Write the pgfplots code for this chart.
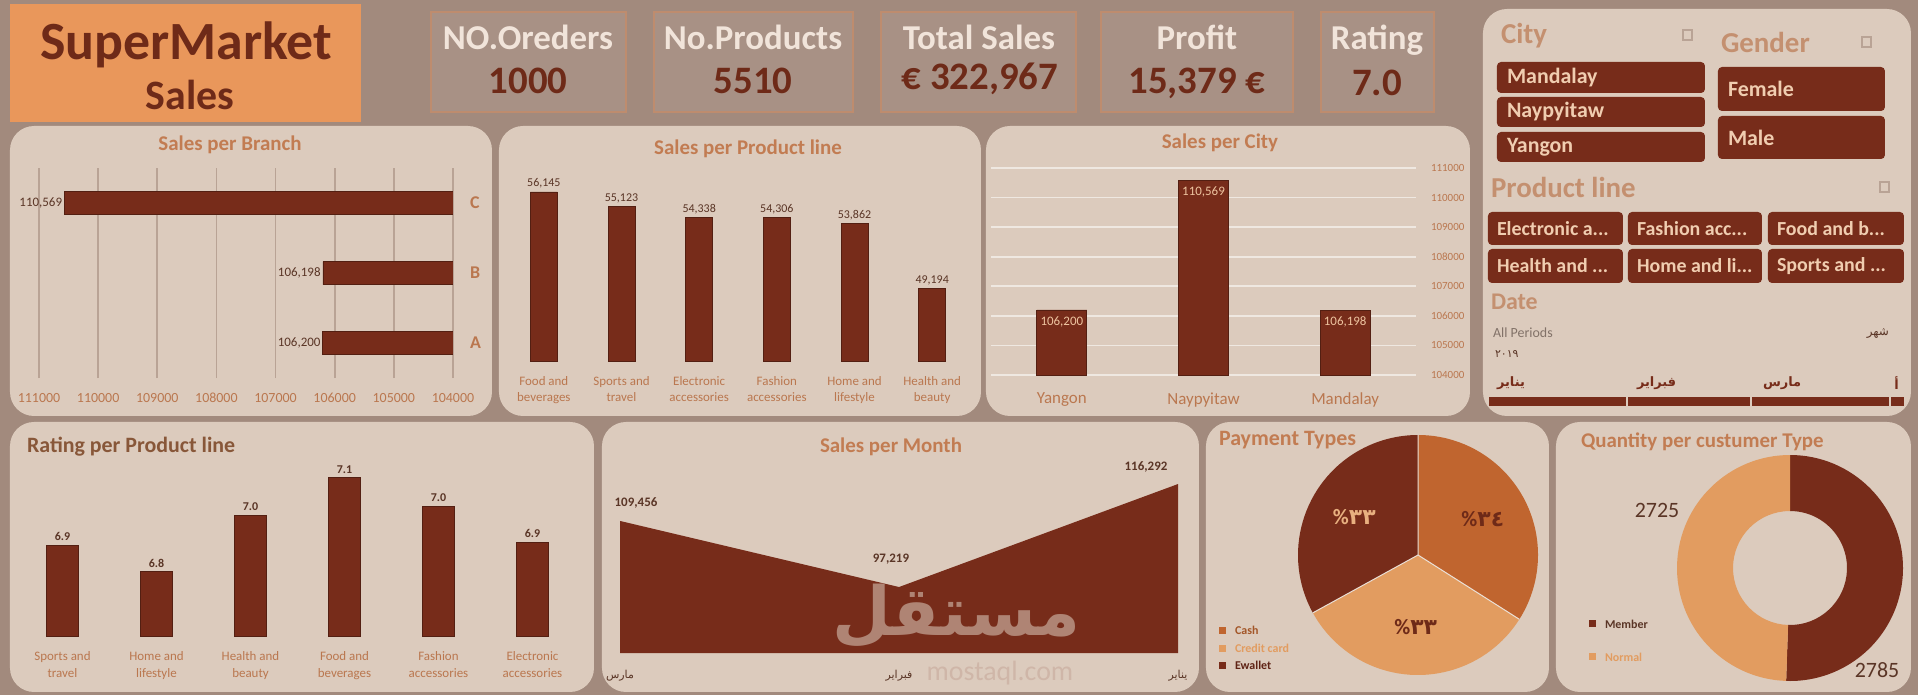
\documentclass[border=0pt]{standalone}
\usepackage{fontspec}
\setmainfont{Carlito}
\newfontfamily\arabicfont[Script=Arabic]{DejaVu Sans}
\TeXXeTstate=1
\usepackage{pgfplots}
\pgfplotsset{compat=1.18}
\definecolor{bg}{HTML}{A28A7D}
\definecolor{panel}{HTML}{DCCBBD}
\definecolor{barc}{HTML}{772C1A}
\definecolor{orangebox}{HTML}{E9975B}
\definecolor{ttl}{HTML}{C27C52}
\definecolor{tick}{HTML}{BA774F}
\definecolor{kpilab}{HTML}{F1E4DA}
\definecolor{kpival}{HTML}{6E2A18}
\definecolor{kpiborder}{HTML}{BE8C6E}
\definecolor{cashc}{HTML}{C0652F}
\definecolor{credc}{HTML}{E29C60}
\definecolor{btntext}{HTML}{F0CDB0}
\definecolor{gridc}{HTML}{B9A395}
\definecolor{labc}{HTML}{5A3526}
\definecolor{hdr}{HTML}{C49070}
\newcommand{\fsz}[2]{\fontsize{#1}{#2}\selectfont}
\pgfplotsset{
  dash/.style={scale only axis, anchor=south west, axis line style={draw=none},
    tick style={draw=none}, major tick length=0pt, clip mode=individual,
    /pgf/number format/assume math mode=true, scaled ticks=false},
}
\begin{document}
\begin{tikzpicture}
\fill[bg] (0,0) rectangle (959bp,-347.5bp);
\useasboundingbox (0,0) rectangle (959bp,-347.5bp);
\begin{scope}[x=0.5bp,y=-0.5bp]
% ---------- header ----------
\fill[orangebox] (10,4) rectangle (361,122);
\node[text=kpival, font=\fsz{27}{30}\bfseries] at (186,45) {SuperMarket};
\node[text=kpival, font=\fsz{21}{24}\bfseries] at (190,95) {Sales};
\foreach \a/\b in {431/626,654/853,881/1076,1101/1293,1321/1434}
  \draw[kpiborder, line width=0.8bp, fill=bg!94!white] (\a,12) rectangle (\b,112);
\node[text=kpilab, font=\fsz{17.5}{20}\bfseries] at (528,37) {NO.Oreders};
\node[text=kpival, font=\fsz{19.5}{22}\bfseries] at (528,81) {1000};
\node[text=kpilab, font=\fsz{17.5}{20}\bfseries] at (753,37) {No.Products};
\node[text=kpival, font=\fsz{19.5}{22}\bfseries] at (753,81) {5510};
\node[text=kpilab, font=\fsz{17.5}{20}\bfseries] at (979,37) {Total Sales};
\node[text=kpival, font=\fsz{19.5}{22}\bfseries] at (980,79) {€ 322,967};
\node[text=kpilab, font=\fsz{17.5}{20}\bfseries] at (1197,37) {Profit};
\node[text=kpival, font=\fsz{19.5}{22}\bfseries] at (1197,83) {15,379 €};
\node[text=kpilab, font=\fsz{17.5}{20}\bfseries] at (1377,40) {Rating};
\node[text=kpival, font=\fsz{19.5}{22}\bfseries] at (1377,83) {7.0};
% ---------- panels ----------
\foreach \a/\b/\c/\d in {10/126/492/416, 499/126/981/416, 986/126/1470/416, 1483/9/1911/416,
   10/422/594/692, 602/422/1199/692, 1206/422/1549/692, 1556/422/1911/692}
  \fill[panel, rounded corners=12bp] (\a,\b) rectangle (\c,\d);
% titles
\node[text=ttl, font=\fsz{10.5}{12}\bfseries] at (230,145) {Sales per Branch};
\node[text=ttl, font=\fsz{10.5}{12}\bfseries] at (748,149) {Sales per Product line};
\node[text=ttl, font=\fsz{10.5}{12}\bfseries] at (1220,143) {Sales per City};
\node[text=ttl!70!black, font=\fsz{11}{12}\bfseries, anchor=west] at (20,447) {Rating per Product line};
\node[text=ttl, font=\fsz{10.5}{12}\bfseries] at (891,447) {Sales per Month};
\node[text=ttl, font=\fsz{11}{12}\bfseries, anchor=west] at (1212,440) {Payment Types};
\node[text=ttl, font=\fsz{10.5}{12}\bfseries, anchor=west] at (1574,442) {Quantity per custumer Type};
% ---------- slicer panel ----------
\node[text=hdr, font=\fsz{14.5}{16}\bfseries, anchor=west] at (1494,36) {City};
\node[text=hdr, font=\fsz{14.5}{16}\bfseries, anchor=west] at (1714,42) {Gender};
\node[text=hdr, font=\fsz{14.5}{16}\bfseries, anchor=west] at (1484,187) {Product line};
\node[text=hdr, font=\fsz{12}{14}\bfseries, anchor=west] at (1484,302) {Date};
\draw[gridc, line width=0.6bp] (1683,30) rectangle (1692,40);
\draw[gridc, line width=0.6bp] (1862,37) rectangle (1871,47);
\draw[gridc, line width=0.6bp] (1880,182) rectangle (1889,192);
\foreach \b/\t/\n in {62/93/Mandalay, 97/127/Naypyitaw, 132/162/Yangon}{
  \fill[barc, rounded corners=2bp] (1497,\b) rectangle (1705,\t);
  \node[text=btntext, font=\fsz{11}{12}\bfseries, anchor=west] at (1500,{(\b+\t)/2}) {\n};
}
\foreach \b/\t/\n in {67/111/Female, 116/159/Male}{
  \fill[barc, rounded corners=2bp] (1718,\b) rectangle (1885,\t);
  \node[text=btntext, font=\fsz{11}{12}\bfseries, anchor=west] at (1721,{(\b+\t)/2}) {\n};
}
\foreach \a/\c/\b/\t/\n in {1488/1623/212/245/{Electronic a...}, 1628/1762/212/245/{Fashion acc...},
   1768/1904/212/245/{Food and b...}, 1488/1623/249/283/{Health and ...},
   1628/1762/249/283/{Home and li...}, 1768/1904/249/283/{Sports and ...}}{
  \fill[barc, rounded corners=2bp] (\a,\b) rectangle (\c,\t);
  \node[text=btntext, font=\fsz{10}{11}\bfseries, anchor=west] at (\a+2,{(\b+\t)/2}) {\n};
}
\node[text=gridc!70!black, font=\fsz{7}{8}, anchor=west] at (1486,333) {All Periods};
\node[text=labc, font=\arabicfont\fsz{6}{7}, anchor=east] at (1896,333) {\beginR شهر\endR};
\node[text=labc, font=\arabicfont\fsz{5.5}{6}, anchor=west] at (1488,354) {٢٠١٩};
\node[text=barc, font=\arabicfont\fsz{6.5}{7}\bfseries, anchor=west] at (1490,383) {\beginR يناير\endR};
\node[text=barc, font=\arabicfont\fsz{6.5}{7}\bfseries, anchor=west] at (1630,383) {\beginR فبراير\endR};
\node[text=barc, font=\arabicfont\fsz{6.5}{7}\bfseries, anchor=west] at (1756,383) {\beginR مارس\endR};
\node[text=barc, font=\arabicfont\fsz{6.5}{7}\bfseries, anchor=east] at (1906,383) {\beginR أ\endR};
\fill[barc] (1489,397) rectangle (1904,406);
\foreach \x in {1627,1751,1890} \draw[panel, line width=0.6bp] (\x,397) -- (\x,406);
% ---------- watermark ----------
\node[text=panel!87!barc, font=\fsz{14}{15}, inner sep=0pt] at (1000,673) {mostaql.com};
% ---------- legends ----------
\fill[cashc] (1219,627) rectangle (1226,634);
\node[text=cashc!85!black, font=\fsz{6}{7}\bfseries, anchor=west] at (1228,630) {Cash};
\fill[credc] (1219,645) rectangle (1226,652);
\node[text=credc, font=\fsz{6}{7}\bfseries, anchor=west] at (1228,648) {Credit card};
\fill[barc] (1219,662) rectangle (1226,669);
\node[text=barc!80!black, font=\fsz{6}{7}\bfseries, anchor=west] at (1228,665) {Ewallet};
\fill[barc] (1589,620) rectangle (1596,627);
\node[text=labc, font=\fsz{6}{7}\bfseries, anchor=west] at (1598,624) {Member};
\fill[credc] (1589,653) rectangle (1596,660);
\node[text=credc, font=\fsz{6}{7}\bfseries, anchor=west] at (1598,657) {Normal};
\end{scope}

% ---------- Sales per Branch ----------
\begin{axis}[dash, at={(19.5bp,-189bp)}, width=207bp, height=105bp,
  xbar, bar width=11.5bp, x dir=reverse, xmin=104000, xmax=111000,
  xtick={104000,105000,106000,107000,108000,109000,110000,111000},
  xticklabels={104000,105000,106000,107000,108000,109000,110000,111000},
  xmajorgrids, grid style={draw=gridc, line width=0.9bp},
  ymin=-0.5, ymax=2.5, ytick={0,1,2}, yticklabels={A,B,C}, yticklabel pos=right,
  xticklabel style={font=\fsz{7}{8}, text=tick, yshift=-4bp},
  yticklabel style={font=\fsz{9}{10}\bfseries, text=tick, xshift=5bp},
  point meta=explicit symbolic, nodes near coords,
  nodes near coords style={font=\fsz{6.5}{7}, text=labc, anchor=east, inner sep=1bp}]
\addplot[fill=barc, draw=barc!70!black] coordinates {(106200,0) [106{,}200] (106198,1) [106{,}198] (110569,2) [110{,}569]};
\end{axis}

% ---------- Sales per Product line ----------
\begin{axis}[dash, at={(252.5bp,-180.5bp)}, width=233bp, height=90.5bp,
  ybar, bar width=13.5bp, xmin=-0.5, xmax=5.5, ymin=44000, ymax=57000, ytick=\empty,
  xtick={0,...,5},
  xticklabels={{Food and\\beverages},{Sports and\\travel},{Electronic\\accessories},{Fashion\\accessories},{Home and\\lifestyle},{Health and\\beauty}},
  xticklabel style={align=center, font=\fsz{6.5}{8.5}, text=tick, yshift=-4bp},
  point meta=explicit symbolic, nodes near coords,
  nodes near coords style={font=\fsz{6}{7}, text=labc, inner sep=1.5bp}]
\addplot[fill=barc, draw=barc!70!black] coordinates {(0,56145) [56{,}145] (1,55123) [55{,}123] (2,54338) [54{,}338] (3,54306) [54{,}306] (4,53862) [53{,}862] (5,49194) [49{,}194]};
\end{axis}

% ---------- Sales per City ----------
\begin{axis}[dash, at={(495.5bp,-187.5bp)}, width=212.5bp, height=103.5bp,
  ybar, bar width=25bp, xmin=-0.5, xmax=2.5, ymin=104000, ymax=111000,
  xtick={0,1,2}, xticklabels={Yangon,Naypyitaw,Mandalay},
  ytick={104000,105000,106000,107000,108000,109000,110000,111000},
  yticklabels={104000,105000,106000,107000,108000,109000,110000,111000},
  yticklabel pos=right,
  ymajorgrids, grid style={draw=white!55!panel, line width=0.9bp},
  yticklabel style={font=\fsz{5.5}{6}, text=tick, xshift=4bp},
  xticklabel style={font=\fsz{8.5}{9}, text=tick, yshift=-5.5bp},
  point meta=explicit symbolic, nodes near coords,
  nodes near coords style={font=\fsz{6.5}{7}, text=credc!60!white, anchor=north, inner sep=3bp}]
\addplot[fill=barc, draw=barc!70!black] coordinates {(0,106200) [106{,}200] (1,110569) [110{,}569] (2,106198) [106{,}198]};
\end{axis}

% ---------- Rating per Product line ----------
\begin{axis}[dash, at={(7.75bp,-318bp)}, width=282bp, height=94bp,
  ybar, bar width=16bp, xmin=-0.5, xmax=5.5, ymin=6.65, ymax=7.2, ytick=\empty,
  xtick={0,...,5},
  xticklabels={{Sports and\\travel},{Home and\\lifestyle},{Health and\\beauty},{Food and\\beverages},{Fashion\\accessories},{Electronic\\accessories}},
  xticklabel style={align=center, font=\fsz{6.5}{9}, text=tick, yshift=-4bp},
  point meta=explicit symbolic, nodes near coords,
  nodes near coords style={font=\fsz{6}{7}\bfseries, text=labc, inner sep=2bp}]
\addplot[fill=barc, draw=barc!70!black] coordinates {(0,6.916) [6.9] (1,6.838) [6.8] (2,7.003) [7.0] (3,7.113) [7.1] (4,7.029) [7.0] (5,6.925) [6.9]};
\end{axis}

% ---------- Sales per Month ----------
\begin{axis}[dash, at={(310bp,-326.5bp)}, width=279bp, height=94.5bp,
  xmin=0, xmax=2, ymin=85000, ymax=120000, ytick=\empty, xtick={0,1,2},
  xticklabels={{\beginR مارس\endR},{\beginR فبراير\endR},{\beginR يناير\endR}},
  xticklabel style={font=\arabicfont\fsz{5.5}{6}, text=labc, yshift=-5bp}]
\addplot[fill=barc, draw=none] coordinates {(0,109456) (1,97219) (2,116292)} \closedcycle;
\node[font=\fsz{6.5}{7}\bfseries, text=labc] at (axis cs:0,109456) [xshift=8bp, yshift=9bp] {109,456};
\node[font=\fsz{6.5}{7}\bfseries, text=labc] at (axis cs:1,97219) [xshift=-4bp, yshift=14bp] {97,219};
\node[font=\fsz{6.5}{7}\bfseries, text=labc] at (axis cs:2,116292) [xshift=-16bp, yshift=8.5bp] {116,292};
\end{axis}
\node[text=barc!45!panel, font=\arabicfont\fsz{34}{36}\bfseries, inner sep=0pt] at (478bp,-308bp) {\beginR مستقل\endR};

% ---------- Payment Types pie ----------
\def\vCash{34}\def\vCred{33}\def\vEwal{33}
\begin{scope}[shift={(709bp,-277.5bp)}]
\pgfmathsetmacro\tot{\vCash+\vCred+\vEwal}
\pgfmathsetmacro\aA{90}
\pgfmathsetmacro\aB{90-360*(\vCash/\tot)}
\pgfmathsetmacro\aC{\aB-360*(\vCred/\tot)}
\pgfmathsetmacro\aD{\aC-360*(\vEwal/\tot)}
\fill[cashc] (0,0) -- (\aA:60bp) arc[start angle=\aA, end angle=\aB, radius=60bp] -- cycle;
\fill[credc] (0,0) -- (\aB:60bp) arc[start angle=\aB, end angle=\aC, radius=60bp] -- cycle;
\fill[barc] (0,0) -- (\aC:60bp) arc[start angle=\aC, end angle=\aD, radius=60bp] -- cycle;
\draw[panel!60!white, line width=0.5bp] (0,0) -- (\aA:60bp) (0,0) -- (\aB:60bp) (0,0) -- (\aC:60bp);
\pgfmathsetmacro\mA{(\aA+\aB)/2}
\pgfmathsetmacro\mB{(\aB+\aC)/2}
\pgfmathsetmacro\mC{(\aC+\aD)/2}
\node[font=\fsz{11}{12}\bfseries, text=kpival] at (\mA:37bp) {\%{\arabicfont ٣٤}};
\node[font=\fsz{11}{12}\bfseries, text=kpival] at (\mB:36bp) {\%{\arabicfont ٣٣}};
\node[font=\fsz{11}{12}\bfseries, text=credc!80!white] at (\mC:37bp) {\%{\arabicfont ٣٣}};
\end{scope}

% ---------- Quantity per customer type donut ----------
\def\vMember{2785}\def\vNormal{2725}
\begin{scope}[shift={(895bp,-284bp)}]
\pgfmathsetmacro\qF{\vMember/(\vMember+\vNormal)}
\pgfmathsetmacro\qB{90-360*\qF}
\fill[barc] (90:56.5bp) arc[start angle=90, end angle=\qB, radius=56.5bp] -- (\qB:28.5bp) arc[start angle=\qB, end angle=90, radius=28.5bp] -- cycle;
\fill[credc] (\qB:56.5bp) arc[start angle=\qB, end angle=-270, radius=56.5bp] -- (-270:28.5bp) arc[start angle=-270, end angle=\qB, radius=28.5bp] -- cycle;
\node[font=\fsz{11}{12}, text=labc] at (-66.5bp,29bp) {2725};
\node[font=\fsz{11}{12}, text=labc] at (43.5bp,-51bp) {2785};
\end{scope}
\end{tikzpicture}
\end{document}
